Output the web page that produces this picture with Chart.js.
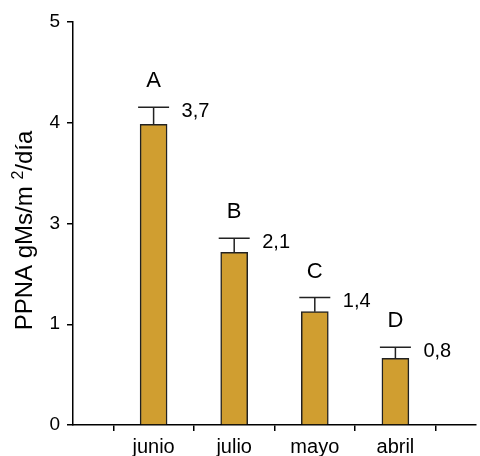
<!DOCTYPE html>
<html>
<head>
<meta charset="utf-8">
<script src="https://cdn.jsdelivr.net/npm/chart.js@4.4.0/dist/chart.umd.min.js"></script>
<style>
  body { margin: 0; background: #fff; }
</style>
</head>
<body>
<canvas id="chart" width="480" height="456"></canvas>
<script>
// data (y in axis units, axis ticks labelled oddly: 0,1,3,4,5)
const meses = ["junio", "julio", "mayo", "abril"];
const ppna = [2.985, 1.714, 1.125, 0.662];
const errores = [0.17, 0.14, 0.14, 0.11];
const letras = ["A", "B", "C", "D"];
const etiquetas = ["3,7", "2,1", "1,4", "0,8"];
const y_ticks = ["0", "1", "3", "4", "5"];

const fuente = "'Liberation Sans', Arial, sans-serif";

// error bars, letters, value labels and the y title (with a real superscript)
const extras = {
  id: "extras",
  afterDatasetsDraw(chart) {
    const ctx = chart.ctx;
    const x = chart.scales.x;
    const y = chart.scales.y;
    ctx.save();
    ctx.strokeStyle = "#222";
    ctx.fillStyle = "#000";
    ctx.lineWidth = 1.5;
    meses.forEach((m, i) => {
      const cx = x.getPixelForValue(i + 1);
      const yTop = y.getPixelForValue(ppna[i]);
      const yErr = y.getPixelForValue(ppna[i] + errores[i]);
      ctx.beginPath();
      ctx.moveTo(cx, yTop);
      ctx.lineTo(cx, yErr);
      ctx.moveTo(cx - 15.5, yErr);
      ctx.lineTo(cx + 15.5, yErr);
      ctx.stroke();

      ctx.font = "22px " + fuente;
      ctx.textAlign = "center";
      ctx.textBaseline = "alphabetic";
      ctx.fillText(letras[i], cx, yErr - 20);

      ctx.font = "20px " + fuente;
      ctx.textAlign = "left";
      ctx.textBaseline = "middle";
      ctx.fillText(etiquetas[i], cx + 28, yErr + 4);
    });

    // y title
    const partes = [["PPNA gMs/m ", 24, 0], ["2", 16, -9], ["/día", 24, 0]];
    let total = 0;
    partes.forEach(p => { ctx.font = p[1] + "px " + fuente; total += ctx.measureText(p[0]).width; });
    ctx.translate(32, (chart.chartArea.top + chart.chartArea.bottom) / 2 + 7);
    ctx.rotate(-Math.PI / 2);
    ctx.textAlign = "left";
    ctx.textBaseline = "alphabetic";
    let pos = -total / 2;
    partes.forEach(p => {
      ctx.font = p[1] + "px " + fuente;
      ctx.fillText(p[0], pos, p[2]);
      pos += ctx.measureText(p[0]).width;
    });
    ctx.restore();
  }
};

new Chart(document.querySelector("#chart"), {
  type: "bar",
  data: {
    labels: ["", ...meses, ""],
    datasets: [{
      data: [null, ...ppna, null],
      backgroundColor: "#D09E30",
      borderColor: "#222",
      borderWidth: 1.5,
      barThickness: 27
    }]
  },
  options: {
    responsive: false,
    animation: false,
    layout: { padding: { top: 22, right: 2, left: 0, bottom: 0 } },
    plugins: { legend: { display: false }, tooltip: { enabled: false } },
    scales: {
      x: {
        offset: false,
        grid: { drawOnChartArea: false, drawTicks: true, tickLength: 6, color: "#000", lineWidth: 1.5 },
        border: { display: true, color: "#000", width: 1.5 },
        ticks: {
          autoSkip: false,
          maxRotation: 0,
          color: "#000",
          padding: 4,
          font: { family: fuente, size: 20 }
        },
        afterFit: (scale) => { scale.height = 31; }
      },
      y: {
        min: 0,
        max: 4,
        grid: { drawOnChartArea: false, drawTicks: true, tickLength: 6, color: "#000", lineWidth: 1.5 },
        border: { display: true, color: "#000", width: 1.5 },
        ticks: {
          stepSize: 1,
          color: "#000",
          padding: 7,
          font: { family: fuente, size: 19 },
          callback: (v) => y_ticks[v]
        },
        afterFit: (scale) => { scale.width = 73; }
      }
    }
  },
  plugins: [extras]
});
</script>
</body>
</html>
